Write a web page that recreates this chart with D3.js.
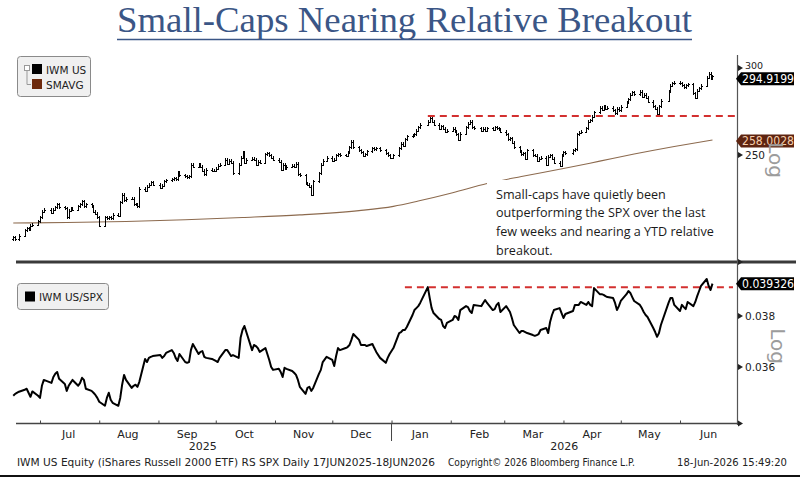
<!DOCTYPE html>
<html>
<head>
<meta charset="utf-8">
<script src="https://cdn.jsdelivr.net/npm/d3@7"></script>
<style>
  html, body { margin: 0; padding: 0; background: #fff; }
  svg { display: block; }
</style>
</head>
<body>
<svg id="chart" width="800" height="477"></svg>
<script>
// -- Data ------------------------------------------------------------
var TITLE = "Small-Caps Nearing Relative Breakout";
var FIRST_DAY = "2025-06-17", LAST_DAY = "2026-06-18";
var holidays = ["2025-06-19", "2025-07-04", "2025-09-01", "2025-11-27", "2025-12-25",
                "2026-01-01", "2026-01-19", "2026-02-16", "2026-04-03", "2026-05-25"];

// IWM US daily close (one value per trading day)
var iwmClose = [
  // Jun 2025
  210.5, 209.5, 211, 213.5, 214.5, 214, 215.5, 216, 217.5,
  // Jul
  219.5, 222, 223, 221.5, 223, 224, 225.5, 224, 223.5, 219.5, 222.5, 223.5, 223, 224.5, 225.5, 227, 224.5, 225.5, 224.5, 222, 221, 219.5,
  // Aug
  215.5, 219.5, 219, 219.5, 219, 220.5, 220, 226.5, 230, 227.5, 228, 228, 225.5, 225.5, 224.5, 233, 232, 234, 235, 236, 235,
  // Sep
  233.5, 234.5, 236.5, 237, 237.5, 238, 237.5, 241, 239.5, 239, 238.5, 239, 245, 244, 245, 244, 242, 240, 242.5, 242, 242,
  // Oct
  243, 244.5, 245, 247.5, 245.5, 247, 246, 240.5, 245, 248.5, 251.5, 246, 247.5, 248, 247.5, 245, 246.5, 246, 250.5, 251, 250, 248.5, 247.5,
  // Nov
  246.5, 242.5, 245, 243, 244, 244.5, 244, 245.5, 240, 239.5, 235.5, 235, 234, 230, 236.5, 240.5, 245, 247, 248.5,
  // Dec
  247, 247.5, 250, 250.5, 250, 249.5, 251.5, 254, 257, 254, 252.5, 251.5, 249.5, 250.5, 252, 253.5, 253, 253.5, 252.5, 251, 250, 248.5,
  // Jan 2026
  250, 253.5, 256, 255, 258.5, 260, 260.5, 261, 263, 265, 266.5, 268, 270, 268, 266.5, 264, 265.5, 264, 262.5, 263,
  // Feb
  264, 262.5, 261, 258, 261.5, 265, 267, 268, 265, 264.5, 263, 264, 263, 264.5, 263.5, 265, 264.5, 263.5, 262.5,
  // Mar
  261, 258.5, 259, 256.5, 254, 252, 250.5, 251, 248, 252.5, 250, 249.5, 247, 248, 248.5, 245, 249, 250, 248, 246, 244.5, 250,
  // Apr
  251.5, 251, 252.5, 253, 261, 262, 262.5, 264.5, 268, 269, 271, 273.5, 276, 275, 276.5, 275.5, 276, 274.5, 273, 275.5, 274.5,
  // May
  276.5, 279, 281, 283.5, 285, 284, 285.5, 282.5, 283.5, 282, 279.5, 277, 275.5, 272.5, 277, 280, 285.5, 289, 290.5, 291,
  // Jun
  290.5, 289.5, 288, 289.5, 290, 284.5, 282, 286, 287.5, 289, 294, 296.5, 293.5, 294.9199
];

// SMAVG (read at a few dates along the smooth line)
var smaDates  = ["2025-06-17", "2025-07-15", "2025-08-15", "2025-09-15", "2025-10-15", "2025-11-14", "2025-12-15",
                 "2026-01-02", "2026-01-15", "2026-02-02", "2026-02-20", "2026-03-10", "2026-04-01", "2026-04-20",
                 "2026-05-08", "2026-05-29", "2026-06-18"];
var smaValues = [216.8, 217.0, 217.5, 218.3, 219.3, 220.5, 222.5,
                 224.5, 227, 231, 235.5, 239, 243, 246.8,
                 250.5, 254.5, 258.0028];

// IWM US / SPX daily ratio
var ratioClose = [
  // Jun 2025
  0.03492, 0.03499, 0.03507, 0.03514, 0.03518, 0.03503, 0.03488, 0.03508, 0.03492,
  // Jul
  0.03484, 0.03529, 0.03551, 0.03540, 0.03562, 0.03574, 0.03581, 0.03555, 0.03536, 0.03510, 0.03529, 0.03540, 0.03551, 0.03529, 0.03540, 0.03559, 0.03551, 0.03518, 0.03510, 0.03503, 0.03495, 0.03484,
  // Aug
  0.03470, 0.03455, 0.03484, 0.03503, 0.03477, 0.03466, 0.03455, 0.03484, 0.03533, 0.03570, 0.03551, 0.03521, 0.03529, 0.03533, 0.03525, 0.03544, 0.03631, 0.03619, 0.03635, 0.03639, 0.03642,
  // Sep
  0.03646, 0.03635, 0.03642, 0.03654, 0.03665, 0.03654, 0.03635, 0.03623, 0.03650, 0.03619, 0.03616, 0.03619, 0.03665, 0.03689, 0.03650, 0.03658, 0.03661, 0.03639, 0.03635, 0.03631, 0.03627,
  // Oct
  0.03623, 0.03619, 0.03635, 0.03665, 0.03665, 0.03654, 0.03642, 0.03646, 0.03635, 0.03713, 0.03744, 0.03760, 0.03736, 0.03665, 0.03685, 0.03681, 0.03673, 0.03658, 0.03673, 0.03650, 0.03627, 0.03600, 0.03589,
  // Nov
  0.03593, 0.03581, 0.03562, 0.03597, 0.03593, 0.03585, 0.03578, 0.03570, 0.03551, 0.03525, 0.03499, 0.03521, 0.03525, 0.03510, 0.03521, 0.03574, 0.03589, 0.03619, 0.03639,
  // Dec
  0.03627, 0.03604, 0.03642, 0.03673, 0.03665, 0.03673, 0.03677, 0.03685, 0.03705, 0.03728, 0.03705, 0.03685, 0.03685, 0.03685, 0.03681, 0.03689, 0.03673, 0.03658, 0.03635, 0.03616, 0.03635, 0.03650,
  // Jan 2026
  0.03673, 0.03732, 0.03736, 0.03744, 0.03744, 0.03756, 0.03804, 0.03824, 0.03832, 0.03840, 0.03853, 0.03918, 0.03873, 0.03832, 0.03812, 0.03788, 0.03784, 0.03760, 0.03752, 0.03772,
  // Feb
  0.03784, 0.03800, 0.03796, 0.03784, 0.03824, 0.03840, 0.03836, 0.03820, 0.03812, 0.03845, 0.03840, 0.03853, 0.03865, 0.03853, 0.03824, 0.03828, 0.03845, 0.03853, 0.03816,
  // Mar
  0.03840, 0.03828, 0.03816, 0.03792, 0.03764, 0.03732, 0.03740, 0.03740, 0.03736, 0.03732, 0.03724, 0.03721, 0.03724, 0.03728, 0.03744, 0.03752, 0.03732, 0.03776, 0.03804, 0.03824, 0.03832, 0.03812,
  // Apr
  0.03792, 0.03808, 0.03820, 0.03845, 0.03845, 0.03845, 0.03857, 0.03845, 0.03857, 0.03845, 0.03840, 0.03914, 0.03889, 0.03889, 0.03886, 0.03881, 0.03877, 0.03873, 0.03853, 0.03824, 0.03840,
  // May
  0.03861, 0.03889, 0.03902, 0.03894, 0.03877, 0.03861, 0.03845, 0.03832, 0.03816, 0.03804, 0.03796, 0.03752, 0.03736, 0.03717, 0.03732, 0.03764, 0.03853, 0.03873, 0.03873, 0.03845,
  // Jun
  0.03820, 0.03845, 0.03836, 0.03828, 0.03857, 0.03840, 0.03857, 0.03881, 0.03902, 0.03923, 0.03952, 0.03923, 0.03906, 0.039326
];

// breakout levels (dashed lines)
var iwmBreakout = 271.3, iwmBreakoutFrom = "2026-01-20";
var ratioBreakout = 0.03918, ratioBreakoutFrom = "2026-01-08";

var iwmTicks = [250, 300];
var ratioTicks = [0.036, 0.038];
var monthLabels = ["Jul", "Aug", "Sep", "Oct", "Nov", "Dec", "Jan", "Feb", "Mar", "Apr", "May", "Jun"];
var yearLabels = ["2025", "2026"];
var lastIwm = "294.9199", lastSma = "258.0028", lastRatio = "0.039326";

var noteLines = [
  "Small-caps have quietly been",
  "outperforming the SPX over the last",
  "few weeks and nearing a YTD relative",
  "breakout."
];
var footer = [
  "IWM US Equity (iShares Russell 2000 ETF) RS SPX Daily 17JUN2025-18JUN2026",
  "Copyright\u00a9 2026 Bloomberg Finance L.P.",
  "18-Jun-2026 15:49:20"
];

// -- Helpers ---------------------------------------------------------
var parse = d3.timeParse("%Y-%m-%d");
var fmt = d3.timeFormat("%Y-%m-%d");

function tradingDays() {
  var out = [], d = parse(FIRST_DAY), end = parse(LAST_DAY);
  while (d <= end) {
    var wd = d.getDay();
    if (wd !== 0 && wd !== 6 && holidays.indexOf(fmt(d)) === -1) out.push(new Date(d));
    d = d3.timeDay.offset(d, 1);
  }
  return out;
}

var days = tradingDays();
var n = Math.min(days.length, iwmClose.length);
var bars = [];
for (var i = 0; i < n; i++) {
  bars.push({ date: days[i], open: i ? iwmClose[i - 1] : iwmClose[i] - 1, close: iwmClose[i] });
}
var ratio = [];
for (var j = 0; j < Math.min(days.length, ratioClose.length); j++) ratio.push({ date: days[j], v: ratioClose[j] });
var sma = smaDates.map(function (d, k) { return { date: parse(d), v: smaValues[k] }; });

// -- Layout ----------------------------------------------------------
var FONT = "'DejaVu Sans', Verdana, sans-serif";
var PL = 16, PR = 737;
var TOP0 = 55, TOP1 = 260, BOT0 = 265, BOT1 = 423;
var INK = "#222";

var svg = d3.select("#chart");
svg.append("rect").attr("width", 800).attr("height", 477).attr("fill", "#fff");

var x = d3.scaleTime()
  .domain([new Date(2025, 6, 1), new Date(2026, 5, 1)])
  .range([40, 680]);
var yTop = d3.scaleLog().domain([250, 300]).range([155, 68]);
var yBot = d3.scaleLog().domain([0.036, 0.038]).range([367, 316]);

var defs = svg.append("defs");
defs.append("clipPath").attr("id", "clipTop").append("rect")
  .attr("x", 0).attr("y", TOP0).attr("width", PR).attr("height", TOP1 - TOP0);
defs.append("clipPath").attr("id", "clipBot").append("rect")
  .attr("x", 0).attr("y", BOT0).attr("width", PR).attr("height", BOT1 - BOT0);

// -- Title -----------------------------------------------------------
var TITLE_C = "#3b5686";
svg.append("text")
  .attr("x", 117).attr("y", 32)
  .attr("font-family", "'Liberation Serif', 'DejaVu Serif', serif")
  .attr("font-size", 35)
  .attr("fill", TITLE_C)
  .attr("textLength", 575).attr("lengthAdjust", "spacingAndGlyphs")
  .text(TITLE);
svg.append("line")
  .attr("x1", 117).attr("x2", 692).attr("y1", 39.5).attr("y2", 39.5)
  .attr("stroke", TITLE_C).attr("stroke-width", 1.5);

// -- Top panel: OHLC bars + SMA ---------------------------------------
var gTop = svg.append("g").attr("clip-path", "url(#clipTop)");

var sLine = d3.line()
  .x(function (d) { return x(d.date); })
  .y(function (d) { return yTop(d.v); })
  .curve(d3.curveMonotoneX);
gTop.append("path").datum(sma)
  .attr("d", sLine)
  .attr("fill", "none")
  .attr("stroke", "#8c6a4e")
  .attr("stroke-width", 1.1);

var WICK = 1.5;
var barG = gTop.append("g")
  .attr("stroke", "#000").attr("stroke-width", 1)
  .attr("shape-rendering", "crispEdges");
barG.selectAll("path").data(bars).join("path")
  .attr("d", function (d) {
    var cx = Math.round(x(d.date)) + 0.5;
    var yo = yTop(d.open), yc = yTop(d.close);
    var hi = Math.min(yo, yc) - WICK, lo = Math.max(yo, yc) + WICK;
    return "M" + cx + "," + hi + "V" + lo +
           "M" + (cx - 1.5) + "," + Math.round(yo) + "H" + cx +
           "M" + cx + "," + Math.round(yc) + "H" + (cx + 1.5);
  })
  .attr("fill", "none");

// breakout line (top)
gTop.append("line")
  .attr("x1", x(parse(iwmBreakoutFrom))).attr("x2", PR)
  .attr("y1", yTop(iwmBreakout)).attr("y2", yTop(iwmBreakout))
  .attr("stroke", "#d3302f").attr("stroke-width", 2)
  .attr("stroke-dasharray", "7,5");

// note box
svg.append("rect")
  .attr("x", 487).attr("y", 180).attr("width", 236).attr("height", 80)
  .attr("fill", "#fff");
svg.append("g").selectAll("text").data(noteLines).join("text")
  .attr("x", 496)
  .attr("y", function (d, k) { return 198.5 + k * 18.7; })
  .attr("font-family", "'Open Sans', Lato, sans-serif")
  .attr("font-size", 12.6)
  .attr("fill", "#1a1a1a")
  .text(function (d) { return d; });

// legend (top)
var lg = svg.append("g");
lg.append("rect").attr("x", 17.5).attr("y", 56.5).attr("width", 73).attr("height", 40)
  .attr("rx", 3).attr("fill", "#f0f0f0").attr("stroke", "#8a8a8a");
lg.append("rect").attr("x", 24.5).attr("y", 65.5).attr("width", 5).attr("height", 5)
  .attr("fill", "#fff").attr("stroke", "#999");
lg.append("path").attr("d", "M27,71V84.5H31").attr("fill", "none").attr("stroke", "#999");
lg.append("rect").attr("x", 32).attr("y", 64).attr("width", 10).attr("height", 10).attr("fill", "#000");
lg.append("rect").attr("x", 32).attr("y", 79).attr("width", 10).attr("height", 10).attr("fill", "#6e2a0c");
lg.append("text").attr("x", 46).attr("y", 73.5).attr("font-family", FONT).attr("font-size", 10.5)
  .attr("fill", INK).text("IWM US");
lg.append("text").attr("x", 46).attr("y", 88.5).attr("font-family", FONT).attr("font-size", 10.5)
  .attr("fill", INK).text("SMAVG");

// -- Bottom panel: ratio line -------------------------------------------
var gBot = svg.append("g").attr("clip-path", "url(#clipBot)");
gBot.append("line")
  .attr("x1", x(parse(ratioBreakoutFrom))).attr("x2", 733)
  .attr("y1", yBot(ratioBreakout)).attr("y2", yBot(ratioBreakout))
  .attr("stroke", "#d3302f").attr("stroke-width", 2)
  .attr("stroke-dasharray", "7,5");
gBot.append("path").datum(ratio)
  .attr("d", d3.line()
    .x(function (d) { return x(d.date); })
    .y(function (d) { return yBot(d.v); }))
  .attr("fill", "none")
  .attr("stroke", "#000")
  .attr("stroke-width", 2)
  .attr("stroke-linejoin", "round");

var lg2 = svg.append("g");
lg2.append("rect").attr("x", 17.5).attr("y", 283.5).attr("width", 91).attr("height", 26)
  .attr("rx", 3).attr("fill", "#f0f0f0").attr("stroke", "#8a8a8a");
lg2.append("rect").attr("x", 25).attr("y", 291.5).attr("width", 10).attr("height", 10).attr("fill", "#000");
lg2.append("text").attr("x", 39).attr("y", 301).attr("font-family", FONT).attr("font-size", 10.5)
  .attr("fill", INK).text("IWM US/SPX");

// -- Frame: separator, right axis, x axis ------------------------------
svg.append("line").attr("x1", PL).attr("x2", 796).attr("y1", 262).attr("y2", 262)
  .attr("stroke", "#3a3a3a").attr("stroke-width", 3);
svg.append("line").attr("x1", PR + 0.5).attr("x2", PR + 0.5).attr("y1", TOP0).attr("y2", BOT1 + 2)
  .attr("stroke", "#555").attr("stroke-width", 1.2);
svg.append("line").attr("x1", PL).attr("x2", PR + 2).attr("y1", BOT1 + 0.5).attr("y2", BOT1 + 0.5)
  .attr("stroke", "#444").attr("stroke-width", 1.3);

function tri(g, y) {
  g.append("path")
    .attr("d", "M" + (PR + 1) + "," + (y - 3) + "L" + (PR + 6) + "," + y + "L" + (PR + 1) + "," + (y + 3) + "Z")
    .attr("fill", "#222");
}

function rightAxis(scale, ticks, fmtTick, fs) {
  var g = svg.append("g").attr("transform", "translate(" + PR + ",0)")
    .call(d3.axisRight(scale).tickValues(ticks).tickSize(0).tickPadding(8).tickFormat(fmtTick));
  g.select(".domain").remove();
  g.selectAll("text").attr("font-family", FONT).attr("font-size", fs).attr("fill", INK);
  ticks.forEach(function (t) { tri(svg, scale(t)); });
  return g;
}
var topAxis = rightAxis(yTop, iwmTicks, d3.format("d"), 10.5);
// the 300 label sits just above the last-price tag, as on the terminal
topAxis.selectAll("text").filter(function (d) { return d === 300; })
  .attr("font-size", 9.5).attr("dy", "0.1em");
rightAxis(yBot, ratioTicks, d3.format(".3f"), 10.5);
tri(svg, 262);
tri(svg, BOT1 + 0.5);

// value tags on the right axis
function valueTag(y, label, fill, color) {
  var g = svg.append("g");
  g.append("path")
    .attr("d", "M" + (PR - 1) + "," + y + "L" + (PR + 4) + "," + (y - 6.5) + "H794V" + (y + 6.5) + "H" + (PR + 4) + "Z")
    .attr("fill", fill);
  g.append("text").attr("x", PR + 5).attr("y", y + 4)
    .attr("font-family", FONT).attr("font-size", 11.5)
    .attr("textLength", 52).attr("lengthAdjust", "spacingAndGlyphs")
    .attr("fill", color).text(label);
}
valueTag(yTop(+lastIwm) + 2.5, lastIwm, "#000", "#fff");
valueTag(yTop(+lastSma) + 1, lastSma, "#5e2410", "#f6cfae");
valueTag(yBot(+lastRatio), lastRatio, "#000", "#fff");

// "Log" labels
[[776, 160], [778, 346]].forEach(function (p) {
  svg.append("text")
    .attr("transform", "translate(" + p[0] + "," + p[1] + ") rotate(90)")
    .attr("text-anchor", "middle").attr("dy", "0.35em")
    .attr("font-family", FONT).attr("font-size", 20)
    .attr("fill", "#9c9c9c").text("Log");
});

// month ticks and labels
var monthStarts = d3.timeMonth.range(new Date(2025, 6, 1), new Date(2026, 6, 1));
var xAxis = svg.append("g").attr("transform", "translate(0," + (BOT1 + 0.5) + ")")
  .call(d3.axisBottom(x).tickValues(monthStarts).tickSize(-3).tickFormat(""));
xAxis.select(".domain").remove();
xAxis.selectAll("line").attr("stroke", "#444");

svg.append("g").selectAll("text").data(monthStarts).join("text")
  .attr("x", function (d) { return x(d3.timeDay.offset(d, 15)); })
  .attr("y", 437.5)
  .attr("text-anchor", "middle")
  .attr("font-family", FONT).attr("font-size", 11)
  .attr("fill", INK)
  .text(function (d, k) { return monthLabels[k]; });

var jan1 = x(new Date(2026, 0, 1));
svg.append("line").attr("x1", jan1).attr("x2", jan1).attr("y1", BOT1).attr("y2", 441)
  .attr("stroke", "#444");
var yearCenters = [(PL + jan1) / 2 - 1, (jan1 + PR) / 2];
svg.append("g").selectAll("text").data(yearLabels).join("text")
  .attr("x", function (d, k) { return yearCenters[k]; })
  .attr("y", 450)
  .attr("text-anchor", "middle")
  .attr("font-family", FONT).attr("font-size", 11)
  .attr("fill", INK)
  .text(function (d) { return d; });

// footer
var footX = [17, 448, 677], footW = [418, 187, 110];
svg.append("g").selectAll("text").data(footer).join("text")
  .attr("x", function (d, k) { return footX[k]; })
  .attr("y", 466)
  .attr("font-family", FONT).attr("font-size", 10.5)
  .attr("textLength", function (d, k) { return footW[k]; })
  .attr("lengthAdjust", "spacingAndGlyphs")
  .attr("fill", INK)
  .text(function (d) { return d; });
svg.append("rect").attr("x", 0).attr("y", 475).attr("width", 800).attr("height", 2).attr("fill", "#111");
</script>
</body>
</html>
